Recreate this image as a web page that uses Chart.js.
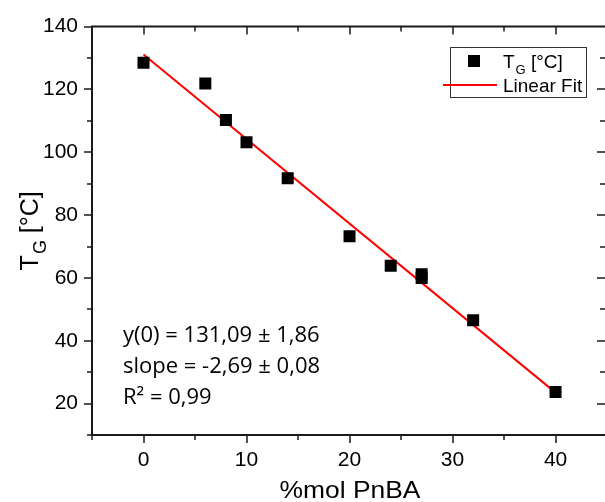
<!DOCTYPE html>
<html>
<head>
<meta charset="utf-8">
<script src="https://cdn.jsdelivr.net/npm/chart.js@4/dist/chart.umd.min.js"></script>
<style>
  html, body { margin: 0; padding: 0; background: #fff; overflow: hidden; }
  #wrap { width: 605px; height: 502px; }
</style>
</head>
<body>
<div id="wrap"><canvas id="c"></canvas></div>
<script>
'use strict'

const molPnBA = [0, 6, 8, 10, 14, 20, 24, 27, 27, 32, 40]
const tgValues = [128.5, 121.9, 110.3, 103.2, 91.7, 73.3, 63.9, 61.2, 60.0, 46.5, 23.7]

// linear fit end points
const fitX = [0, 40]
const fitY = [131.09, 23.49]

const xTicks = [0, 10, 20, 30, 40]
const yTicks = [20, 40, 60, 80, 100, 120, 140]

const fitText = ['y(0) = 131,09 ± 1,86', 'slope = -2,69 ± 0,08', 'R² = 0,99']

const ink = '#1a1a1a'
const arial = '"Liberation Sans", Arial, sans-serif'

// T with subscript G, then rest
function drawTg(ctx, x, y, size) {
  ctx.font = size + 'px ' + arial
  ctx.fillText('T', x, y)
  let w = ctx.measureText('T').width
  const sub = Math.round(size * 0.7)
  ctx.font = sub + 'px ' + arial
  ctx.fillText('G', x + w + 1, y + size * 0.3)
  w += ctx.measureText('G').width + 1
  ctx.font = size + 'px ' + arial
  ctx.fillText(' [°C]', x + w, y)
  w += ctx.measureText(' [°C]').width
  return w
}

function measureTg(ctx, size) {
  ctx.font = size + 'px ' + arial
  let w = ctx.measureText('T').width + ctx.measureText(' [°C]').width + 1
  ctx.font = Math.round(size * 0.7) + 'px ' + arial
  return w + ctx.measureText('G').width
}

const framePlugin = {
  id: 'frame',
  afterDraw(chart) {
    const { ctx, chartArea: a, scales } = chart
    const xs = scales.x
    const ys = scales.y
    ctx.save()
    ctx.strokeStyle = ink
    ctx.lineWidth = 2
    ctx.beginPath()
    ctx.moveTo(a.left, a.top)
    ctx.lineTo(a.left, a.bottom)
    ctx.moveTo(a.left - 1, a.bottom)
    ctx.lineTo(a.right, a.bottom)
    ctx.moveTo(a.left - 1, a.top)
    ctx.lineTo(a.right, a.top)
    ctx.stroke()

    ctx.lineWidth = 1.5
    ctx.beginPath()
    for (let v = -5; v <= 45; v += 5) {
      const px = Math.round(xs.getPixelForValue(v))
      if (px > a.right) continue
      const len = v % 10 === 0 ? 8 : 5
      ctx.moveTo(px, a.bottom)
      ctx.lineTo(px, a.bottom + len)
      if (v > -5) {
        ctx.moveTo(px, a.top)
        ctx.lineTo(px, a.top + len)
      }
    }
    for (let v = 10; v <= 140; v += 10) {
      const py = Math.round(ys.getPixelForValue(v))
      const len = v % 20 === 0 ? 8 : 5
      ctx.moveTo(a.left, py)
      ctx.lineTo(a.left - len, py)
      if (v > 10 && v < 140) {
        ctx.moveTo(a.right, py)
        ctx.lineTo(a.right - len, py)
      }
    }
    ctx.stroke()

    // axis titles
    ctx.fillStyle = '#000'
    ctx.textBaseline = 'alphabetic'
    ctx.textAlign = 'left'
    ctx.font = '24px ' + arial
    const xt = '%mol PnBA'
    const xw = ctx.measureText(xt).width
    ctx.save()
    ctx.translate(350, 498)
    ctx.scale(1.1, 1)
    ctx.fillText(xt, -xw / 2, 0)
    ctx.restore()

    ctx.save()
    ctx.translate(38, (a.top + a.bottom) / 2)
    ctx.rotate(-Math.PI / 2)
    const tw = measureTg(ctx, 25)
    drawTg(ctx, -tw / 2, 0, 25)
    ctx.restore()

    // legend
    ctx.lineWidth = 1
    ctx.strokeStyle = '#333'
    ctx.strokeRect(450.5, 47.5, 136, 50)
    ctx.fillStyle = '#000'
    ctx.fillRect(468, 55, 12, 12)
    drawTg(ctx, 503, 68, 19)
    ctx.strokeStyle = '#ff0000'
    ctx.lineWidth = 2
    ctx.beginPath()
    ctx.moveTo(443, 85)
    ctx.lineTo(497, 85)
    ctx.stroke()
    ctx.font = '19px ' + arial
    ctx.fillText(chart.data.datasets[1].label, 503, 92)

    // fit results
    ctx.font = '22px "Open Sans", sans-serif'
    fitText.forEach((t, i) => {
      ctx.fillText(t, 123, 342 + i * 31)
    })
    ctx.restore()
  }
}

const tickFont = { family: arial, size: 21 }

new Chart(document.getElementById('c'), {
  type: 'scatter',
  data: {
    datasets: [
      {
        label: 'TG [°C]',
        data: molPnBA.map((x, i) => ({ x, y: tgValues[i] })),
        pointStyle: 'rect',
        pointRadius: 8.5,
        pointHoverRadius: 8.5,
        backgroundColor: '#000',
        borderWidth: 0,
        order: 1
      },
      {
        label: 'Linear Fit',
        type: 'line',
        data: fitX.map((x, i) => ({ x, y: fitY[i] })),
        borderColor: '#ff0000',
        borderWidth: 2,
        pointRadius: 0,
        fill: false,
        order: 2
      }
    ]
  },
  options: {
    responsive: true,
    maintainAspectRatio: false,
    animation: false,
    layout: { autoPadding: false, padding: { top: 22, right: 0, left: 0, bottom: 0 } },
    scales: {
      x: {
        type: 'linear',
        min: -5,
        max: 44.8,
        afterBuildTicks: (s) => { s.ticks = xTicks.map((value) => ({ value })) },
        afterFit: (s) => { s.height = 67 },
        grid: { display: false, drawTicks: false },
        border: { display: false },
        ticks: { font: tickFont, color: '#000', padding: 13, maxRotation: 0 }
      },
      y: {
        min: 10,
        max: 140,
        afterBuildTicks: (s) => { s.ticks = yTicks.map((value) => ({ value })) },
        afterFit: (s) => { s.width = 92 },
        grid: { display: false, drawTicks: false },
        border: { display: false },
        ticks: { font: tickFont, color: '#000', padding: 14 }
      }
    },
    plugins: {
      legend: { display: false },
      tooltip: { enabled: false }
    }
  },
  plugins: [framePlugin]
})
</script>
</body>
</html>
